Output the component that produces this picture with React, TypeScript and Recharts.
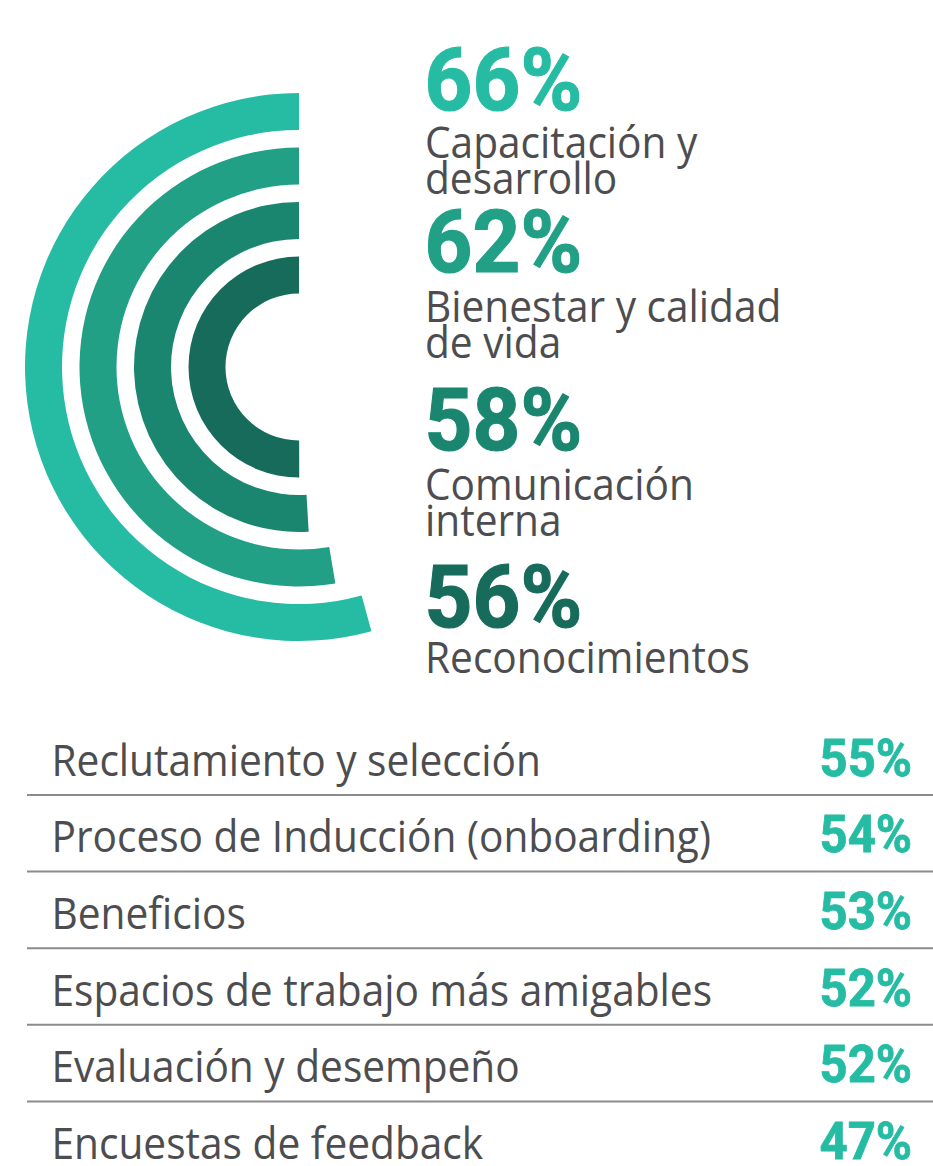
import React from 'react';
import { RadialBarChart, RadialBar, PolarAngleAxis, PolarRadiusAxis, Cell } from 'recharts';

// Top areas (inner ring -> outer ring)
const topAreas = ['Reconocimientos', 'Comunicación\ninterna', 'Bienestar y calidad\nde vida', 'Capacitación y\ndesarrollo'];
const topValues = [56, 58, 62, 66];

// Remaining areas (table)
const otherAreas = [
  'Reclutamiento y selección',
  'Proceso de Inducción (onboarding)',
  'Beneficios',
  'Espacios de trabajo más amigables',
  'Evaluación y desempeño',
  'Encuestas de feedback',
];
const otherValues = [55, 54, 53, 52, 52, 47];

// styles
const ringColors = ['#176B5B', '#1B866F', '#21A086', '#26BCA4'];
const pctColors = ['#176B5B', '#1B866F', '#21A086', '#26BCA3'];
const GRAY = '#4D4D50';
const TEAL = '#26BCA3';

const ringData = topAreas.map((name, i) => ({ name, value: topValues[i] }));

// layout (index aligned with topAreas)
const pctBaselines = [627, 450, 272, 110];
const labelFirstBaselines = [673, 500, 322, 158];
const ROW0 = 775.7;
const ROWSTEP = 76.6;

export default function App() {
  return (
    <div style={{ position: 'absolute', left: 0, top: 0, width: 933, height: 1166, background: '#fff', overflow: 'hidden' }}>
      <div style={{ position: 'absolute', left: 0, top: 0 }}>
        <RadialBarChart
          width={420}
          height={700}
          cx={299}
          cy={367}
          innerRadius={64.5}
          outerRadius={282.5}
          startAngle={90}
          endAngle={450}
          data={ringData}
          barCategoryGap={9}
          margin={{ top: 0, right: 0, bottom: 0, left: 0 }}
        >
          <PolarAngleAxis type="number" scale="log" domain={[8, 391]} tick={false} axisLine={false} />
          <PolarRadiusAxis type="category" dataKey="name" tick={false} axisLine={false} />
          <RadialBar dataKey="value" isAnimationActive={false}>
            {ringData.map((d, i) => (
              <Cell key={d.name} fill={ringColors[i]} />
            ))}
          </RadialBar>
        </RadialBarChart>
      </div>
      <svg width={933} height={1166} style={{ position: 'absolute', left: 0, top: 0 }}>
        {topAreas.map((name, i) => (
          <g key={name}>
            <text
              transform={`translate(424.5, ${pctBaselines[i]}) scale(0.95, 1)`}
              fontFamily="Roboto, 'Liberation Sans', sans-serif"
              fontWeight={700}
              fontSize={88}
              fill={pctColors[i]}
              stroke={pctColors[i]}
              strokeWidth={1.2}
            >
              {topValues[i]}%
            </text>
            {name.split('\n').map((line, j) => (
              <text
                key={j}
                transform={`translate(425, ${labelFirstBaselines[i] + j * 36}) scale(0.945, 1)`}
                fontFamily="'Open Sans', 'Noto Sans', sans-serif"
                fontSize={43}
                fill={GRAY}
              >
                {line}
              </text>
            ))}
          </g>
        ))}
        {otherAreas.map((name, i) => (
          <g key={name}>
            <text
              transform={`translate(51.5, ${ROW0 + i * ROWSTEP}) scale(0.945, 1)`}
              fontFamily="'Open Sans', 'Noto Sans', sans-serif"
              fontSize={43}
              fill={GRAY}
            >
              {name}
            </text>
            <text
              transform={`translate(912, ${ROW0 + i * ROWSTEP}) scale(0.95, 1)`}
              fontFamily="Roboto, 'Liberation Sans', sans-serif"
              fontWeight={700}
              fontSize={51.6}
              fill={TEAL}
              stroke={TEAL}
              strokeWidth={0.8}
              textAnchor="end"
            >
              {otherValues[i]}%
            </text>
            {i < otherAreas.length - 1 && (
              <line x1={27} x2={933} y1={795 + i * ROWSTEP} y2={795 + i * ROWSTEP} stroke="#8C8C8C" strokeWidth={2} />
            )}
          </g>
        ))}
      </svg>
    </div>
  );
}
